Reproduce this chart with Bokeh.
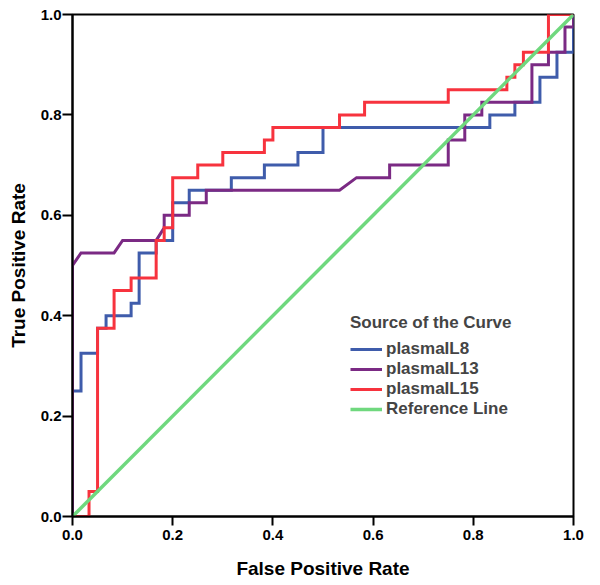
from bokeh.plotting import figure
from bokeh.models import Legend, LegendItem, Range1d, FixedTicker, PrintfTickFormatter
from bokeh.embed import file_html
from bokeh.resources import INLINE

# ROC curve vertices (False Positive Rate, True Positive Rate)
il8_fpr = [0, 0, 0.017, 0.017, 0.05, 0.05, 0.067, 0.067, 0.117, 0.117, 0.133, 0.133,
           0.167, 0.167, 0.2, 0.2, 0.233, 0.233, 0.317, 0.317, 0.383, 0.383, 0.45, 0.45,
           0.5, 0.5, 0.833, 0.833, 0.883, 0.883, 0.933, 0.933, 0.967, 0.967, 1, 1]
il8_tpr = [0, 0.25, 0.25, 0.325, 0.325, 0.375, 0.375, 0.4, 0.4, 0.425, 0.425, 0.525,
           0.525, 0.55, 0.55, 0.625, 0.625, 0.65, 0.65, 0.675, 0.675, 0.7, 0.7, 0.725,
           0.725, 0.775, 0.775, 0.8, 0.8, 0.825, 0.825, 0.875, 0.875, 0.925, 0.925, 1]

il13_fpr = [0, 0, 0.017, 0.083, 0.1, 0.167, 0.183, 0.183, 0.233, 0.233, 0.267, 0.267,
            0.533, 0.567, 0.633, 0.633, 0.75, 0.75, 0.783, 0.783, 0.817, 0.817, 0.917,
            0.917, 0.95, 0.95, 0.983, 0.983, 1, 1]
il13_tpr = [0, 0.5, 0.525, 0.525, 0.55, 0.55, 0.575, 0.6, 0.6, 0.625, 0.625, 0.65,
            0.65, 0.675, 0.675, 0.7, 0.7, 0.75, 0.75, 0.8, 0.8, 0.825, 0.825,
            0.9, 0.9, 0.925, 0.925, 0.975, 0.975, 1]

il15_fpr = [0, 0.033, 0.033, 0.05, 0.05, 0.083, 0.083, 0.117, 0.117, 0.167, 0.167,
            0.183, 0.183, 0.2, 0.2, 0.25, 0.25, 0.3, 0.3, 0.383, 0.383, 0.4, 0.4,
            0.533, 0.533, 0.583, 0.583, 0.75, 0.75, 0.867, 0.867, 0.883, 0.883, 0.9,
            0.9, 0.95, 0.95, 1]
il15_tpr = [0, 0, 0.05, 0.05, 0.375, 0.375, 0.45, 0.45, 0.475, 0.475, 0.55, 0.55,
            0.575, 0.575, 0.675, 0.675, 0.7, 0.7, 0.725, 0.725, 0.75, 0.75, 0.775,
            0.775, 0.8, 0.8, 0.825, 0.825, 0.85, 0.85, 0.875, 0.875, 0.9, 0.9,
            0.925, 0.925, 1, 1]

ref_x = [0, 1]
ref_y = [0, 1]

series_names = ["plasmaIL8", "plasmaIL13", "plasmaIL15", "Reference Line"]
tick_values = [0.0, 0.2, 0.4, 0.6, 0.8, 1.0]

colors = ["#3f5cab", "#7b2a84", "#f7333e", "#6fd87e"]
FONT = "Liberation Sans"

p = figure(width=590, height=584, output_backend="svg",
           toolbar_location=None, x_range=Range1d(0, 1), y_range=Range1d(0, 1),
           min_border_left=72, min_border_right=17, min_border_top=14,
           min_border_bottom=68)
p.background_fill_color = "white"
p.border_fill_color = "white"
p.outline_line_color = "black"
p.outline_line_width = 2
p.xgrid.visible = False
p.ygrid.visible = False

r1 = p.line(il8_fpr, il8_tpr, line_color=colors[0], line_width=3, line_join="miter")
r2 = p.line(il13_fpr, il13_tpr, line_color=colors[1], line_width=3, line_join="miter")
r3 = p.line(il15_fpr, il15_tpr, line_color=colors[2], line_width=3, line_join="miter")
r4 = p.line(ref_x, ref_y, line_color=colors[3], line_width=3.5)

for ax in (p.xaxis[0], p.yaxis[0]):
    ax.ticker = FixedTicker(ticks=tick_values)
    ax.formatter = PrintfTickFormatter(format="%.1f")
    ax.axis_line_width = 2
    ax.axis_line_color = "black"
    ax.major_tick_line_width = 2
    ax.major_tick_line_color = "black"
    ax.minor_tick_line_color = None
    ax.major_tick_in = 0
    ax.major_label_text_font = FONT
    ax.major_label_text_font_style = "bold"
    ax.major_label_text_font_size = "15px"
    ax.major_label_text_color = "black"
    ax.axis_label_text_font = FONT
    ax.axis_label_text_font_style = "bold"
    ax.axis_label_text_font_size = "19px"
    ax.axis_label_text_color = "black"

p.xaxis[0].axis_label = "False Positive Rate"
p.yaxis[0].axis_label = "True Positive Rate"
p.xaxis[0].major_tick_out = 9
p.xaxis[0].major_label_standoff = 4
p.xaxis[0].axis_label_standoff = 15
p.yaxis[0].major_tick_out = 10
p.yaxis[0].major_label_standoff = 1
p.yaxis[0].axis_label_standoff = 9

legend = Legend(
    items=[LegendItem(label=n, renderers=[r]) for n, r in zip(series_names, [r1, r2, r3, r4])],
    location=(276, 95),
    title="Source of the Curve",
    title_text_font=FONT, title_text_font_style="bold", title_text_font_size="17px",
    title_standoff=6,
    label_text_font=FONT, label_text_font_style="bold", label_text_font_size="17px",
    glyph_width=32, glyph_height=16, label_height=16, spacing=0, label_standoff=4,
    padding=2, margin=0, border_line_alpha=0, background_fill_alpha=0,
)
p.add_layout(legend)

open("out.html", "w").write(file_html(p, INLINE))
